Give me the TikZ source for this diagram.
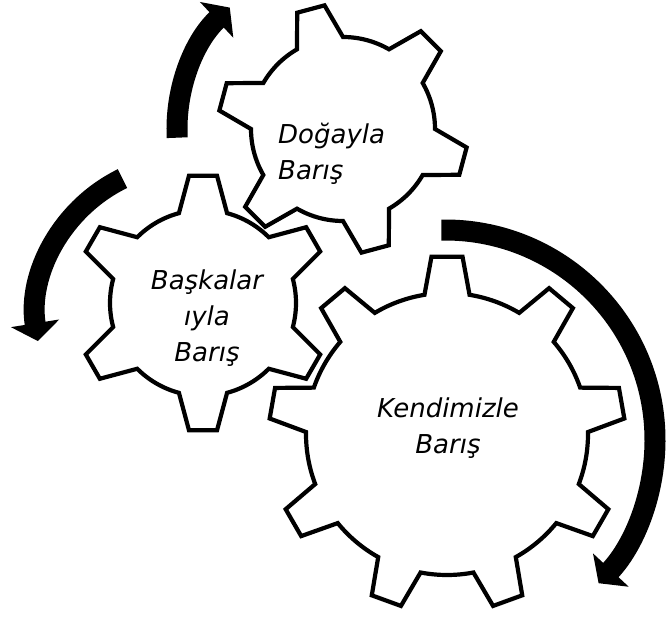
\documentclass[tikz,border=0pt]{standalone}
\usepackage{fontspec}
\setmainfont{DejaVu Sans}
\usetikzlibrary{arrows.meta}

% centre, teeth, tip radius, root radius, tip half angle, root half angle, first tooth
\newcommand{\drawgear}[7]{%
  \pgfmathsetmacro\gearpitch{360/#2}%
  \pgfmathtruncatemacro\gearlast{#2-1}%
  \draw[gearline, shift={(#1)}] (#7-#6:#4)
    \foreach \i [evaluate=\i as \a using #7+\i*\gearpitch] in {0,...,\gearlast}{
      -- (\a-#5:#3) -- (\a+#5:#3) -- (\a+#6:#4)
      arc[start angle=\a+#6, end angle=\a+\gearpitch-#6, radius=#4]
    } -- cycle;
}

\begin{document}
\begin{tikzpicture}[x=1pt, y=1pt,
	gearline/.style={draw=black, line width=4.2pt},
	spinarrow/.style={line width=21pt, -{Triangle[length=18pt, width=48pt]}},
	gearlabel/.style={font=\itshape\fontsize{26}{36}\selectfont, inner sep=0pt},
	]
	\useasboundingbox (0,0) rectangle (669,616);
	
	%Centres
	\coordinate (dogay) at (343,487);
	\coordinate (bask)  at (203,313);
	\coordinate (kend)  at (447,182);
	\coordinate (baskturn) at (190,299);
	\coordinate (kendturn) at (445,176);
	
	%Gears
	\drawgear{dogay}{6}{125}{92}{6.5}{15}{105}
	\drawgear{bask}{6}{128}{93}{6.3}{15}{90}
	\drawgear{kend}{9}{178}{141}{5}{9.2}{90}
	
	%Labels
	\node[gearlabel, align=left, anchor=west] (dogaytxt) at (278,462)   {Doğayla\\Barış};
	\node[gearlabel, align=center]            (basktxt)  at (207,298)   {Başkalar\\ıyla\\Barış};
	\node[gearlabel, align=center]            (kendtxt)  at (448,188)   {Kendimizle\\Barış};
	
	%Arrows
	\draw[spinarrow] ([shift={(183:166)}]dogay)    arc[start angle=183, end angle=133, radius=166];
	\draw[spinarrow] ([shift={(116:154)}]baskturn) arc[start angle=116, end angle=189, radius=154];
	\draw[spinarrow] ([shift={(91:210)}]kendturn)  arc[start angle=91,  end angle=-43, radius=210];
\end{tikzpicture}
\end{document}
